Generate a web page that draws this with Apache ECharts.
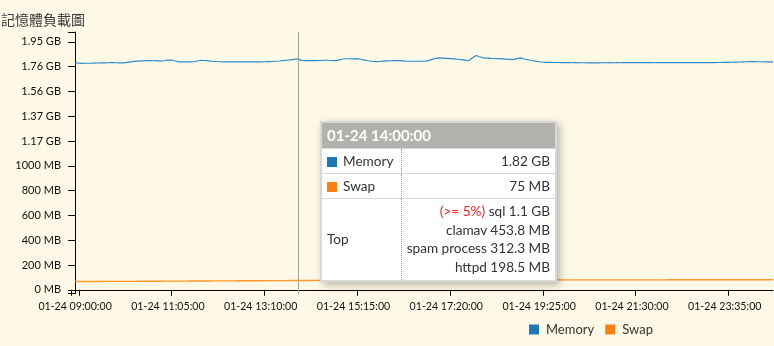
<!DOCTYPE html>
<html>
<head>
<meta charset="utf-8">
<script src="https://cdn.jsdelivr.net/npm/echarts@6/dist/echarts.min.js"></script>
<style>
html,body{margin:0;padding:0;background:#fef9e6;}
#chart{width:774px;height:346px;}
</style>
</head>
<body>
<div id="chart"></div>
<script>
// ---- data ----
const titleText = '記憶體負載圖';
const seriesNames = ['Memory', 'Swap'];
const stepMinutes = 5; // samples every 5 minutes, starting 01-24 09:00
const memory = [
  1833,1829,1827,1828,1828,1829,1830,1831,1831,1832,
  1833,1832,1831,1831,1835,1839,1843,1845,1847,1849,
  1849,1848,1849,1845,1848,1853,1854,1846,1839,1839,
  1840,1839,1840,1846,1852,1850,1847,1844,1842,1840,
  1839,1839,1840,1839,1839,1839,1839,1839,1839,1839,
  1839,1840,1841,1842,1844,1846,1849,1852,1855,1859,
  1864,1851,1849,1849,1849,1849,1850,1852,1852,1850,
  1849,1853,1862,1864,1864,1863,1865,1860,1853,1848,
  1844,1841,1842,1845,1847,1848,1849,1849,1847,1845,
  1844,1844,1844,1844,1844,1847,1857,1866,1871,1869,
  1867,1865,1863,1860,1857,1853,1848,1870,1890,1880,
  1871,1869,1867,1866,1865,1863,1861,1859,1857,1865,
  1871,1862,1856,1850,1845,1840,1836,1835,1835,1834,
  1834,1833,1833,1833,1832,1833,1832,1832,1831,1832,
  1831,1831,1832,1832,1833,1832,1833,1832,1833,1833,
  1833,1834,1833,1833,1833,1833,1832,1833,1833,1833,
  1833,1833,1834,1833,1833,1833,1833,1833,1833,1833,
  1833,1834,1833,1834,1834,1835,1835,1836,1837,1838,
  1839,1840,1841,1841,1840,1840,1839,1839,1839
];
const swap = [
  67,67,67,67,67,67,67,67,68,68,
  68,68,68,68,68,68,68,69,69,69,
  69,69,69,69,70,70,70,70,70,70,
  70,71,71,71,71,71,71,72,72,72,
  72,72,72,72,73,73,73,73,73,73,
  73,74,74,74,74,74,74,74,75,75,
  75,75,75,75,75,76,76,76,76,76,
  76,76,76,76,77,77,77,77,77,77,
  77,77,77,77,78,78,78,78,78,78,
  78,78,78,78,78,78,78,78,78,78,
  78,78,78,79,79,79,79,79,79,79,
  79,79,79,79,79,79,79,79,79,79,
  79,79,79,79,79,79,80,80,80,80,
  80,80,80,80,80,80,80,80,80,80,
  80,80,80,80,80,80,80,80,80,80,
  80,80,80,80,80,80,80,80,80,80,
  81,81,81,81,81,81,81,81,81,81,
  81,81,81,81,81,81,81,81,81,81,
  81,81,81,81,81,81,81,81,81
];
// x tick labels (minutes after 09:00)
const xLabelMinutes = [0, 125, 250, 375, 500, 625, 750, 875];
const xLabels = ['01-24 09:00:00','01-24 11:05:00','01-24 13:10:00','01-24 15:15:00','01-24 17:20:00','01-24 19:25:00','01-24 21:30:00','01-24 23:35:00'];
const xTickMinutes = [-5.5, 5, 130, 255, 380, 505, 630, 755, 880];
// y tick labels (MB)
const yTickValues = [0, 200, 400, 600, 800, 1000, 1200, 1400, 1600, 1800, 2000];
const yLabels = ['0 MB','200 MB','400 MB','600 MB','800 MB','1000 MB','1.17 GB','1.37 GB','1.56 GB','1.76 GB','1.95 GB'];
const yTickAll = [-30, 0, 200, 400, 600, 800, 1000, 1200, 1400, 1600, 1800, 2000, 2080];
// tooltip content
const tipIndex = 60;
const tipTime = '01-24 14:00:00';
const topProcs = ['sql', 'clamav', 'spam process', 'httpd'];
const topSizes = ['1.1 GB', '453.8 MB', '312.3 MB', '198.5 MB'];
const topFlag = '(>= 5%)';

const colors = ['#1f77b4', '#ff7f0e'];
const FONT = 'Lato, "Noto Sans CJK TC", sans-serif';

function fmtMB(v){ return v >= 1024 ? (v/1024).toFixed(2) + ' GB' : Math.round(v) + ' MB'; }
function esc(s){ return s.replace(/&/g,'&amp;').replace(/</g,'&lt;').replace(/>/g,'&gt;'); }

const chart = echarts.init(document.getElementById('chart'), null, {renderer:'canvas'});
const option = {
  animation: false,
  backgroundColor: '#fef9e6',
  textStyle: { fontFamily: FONT },
  title: {
    text: titleText, left: -4, top: 8,
    textStyle: { fontFamily: '"Noto Sans CJK TC", sans-serif', fontSize: 14, fontWeight: 'normal', color: '#3a3a3a' }
  },
  color: colors,
  legend: {
    data: seriesNames, left: 529, top: 323, padding: 0,
    icon: 'rect', itemWidth: 10, itemHeight: 10, itemGap: 11,
    textStyle: { fontFamily: FONT, fontSize: 13, color: '#333', padding: [0,0,0,2] }
  },
  grid: { left: 71, right: 1, top: 32, bottom: 52.5, containLabel: false },
  xAxis: {
    type: 'value', min: -5.5, max: 940,
    axisLine: { show: true, lineStyle: { color: '#000', width: 1 } },
    axisTick: { show: true, length: 6, customValues: xTickMinutes, lineStyle: { color: '#000' } },
    axisLabel: {
      customValues: xLabelMinutes, margin: 8, fontSize: 10.6, color: '#111', fontFamily: FONT,
      formatter: function(v){ const i = xLabelMinutes.indexOf(v); return i >= 0 ? xLabels[i] : ''; }
    },
    splitLine: { show: false }
  },
  yAxis: {
    type: 'value', min: -30, max: 2080,
    axisLine: { show: true, lineStyle: { color: '#000', width: 1 } },
    axisTick: { show: true, length: 7, customValues: yTickAll, lineStyle: { color: '#000' } },
    axisLabel: {
      customValues: yTickValues, margin: 10, fontSize: 11, color: '#111', fontFamily: FONT,
      formatter: function(v){ const i = yTickValues.indexOf(v); return i >= 0 ? yLabels[i] : ''; }
    },
    splitLine: { show: false }
  },
  tooltip: {
    trigger: 'axis', triggerOn: 'none', alwaysShowContent: true,
    axisPointer: { type: 'line', lineStyle: { color: '#a8a294', width: 1, type: 'solid' } },
    position: [320, 121],
    padding: 0, borderWidth: 2, borderColor: '#d8d8d8', backgroundColor: '#ffffff',
    extraCssText: 'border-radius:0;box-shadow:3px 3px 8px rgba(0,0,0,0.28);',
    formatter: function(params){
      const rows = params.map(function(p){
        return '<tr style="border-top:1px solid #d9d9d9;">' +
          '<td style="height:24px;padding:0 0 0 5px;border-right:1px dotted #999;white-space:nowrap;">' +
          '<span style="display:inline-block;width:10px;height:10px;background:' + p.color + ';margin-right:6px;vertical-align:-1px;"></span>' + p.seriesName + '</td>' +
          '<td style="text-align:right;padding:0 5px 0 0;">' + fmtMB(p.value[1]) + '</td></tr>';
      }).join('');
      const topLines = topProcs.map(function(n, i){
        return '<div style="line-height:18.7px;">' + (i === 0 ? '<span style="color:#ff1a1a;">' + esc(topFlag) + '</span> ' : '') + n + ' ' + topSizes[i] + '</div>';
      }).join('');
      return '<div style="width:233px;font-family:' + FONT.replace(/"/g,"'") + ';font-size:13.6px;color:#333;">' +
        '<div style="background:#b3b1ad;color:#fff;font-weight:bold;font-size:15px;height:25px;line-height:25px;padding:0 5px;">' + tipTime + '</div>' +
        '<table style="border-collapse:collapse;width:100%;font-size:13.6px;color:#333;">' + rows +
        '<tr style="border-top:1px solid #d9d9d9;"><td style="width:74px;padding:0 0 0 5px;border-right:1px dotted #999;">Top</td>' +
        '<td style="text-align:right;padding:3px 5px 3px 0;">' + topLines + '</td></tr>' +
        '</table></div>';
    }
  },
  series: [
    {
      name: seriesNames[0], type: 'line', showSymbol: false, symbol: 'none',
      lineStyle: { width: 1.2, color: '#2a7db9' },
      data: memory.map(function(v, i){ return [i * stepMinutes, v]; })
    },
    {
      name: seriesNames[1], type: 'line', showSymbol: false, symbol: 'none',
      lineStyle: { width: 1.3, color: '#ff8a25' },
      data: swap.map(function(v, i){ return [i * stepMinutes, v]; })
    }
  ]
};
chart.setOption(option);
setTimeout(function(){
  chart.dispatchAction({ type: 'showTip', seriesIndex: 0, dataIndex: tipIndex });
}, 50);
</script>
</body>
</html>
